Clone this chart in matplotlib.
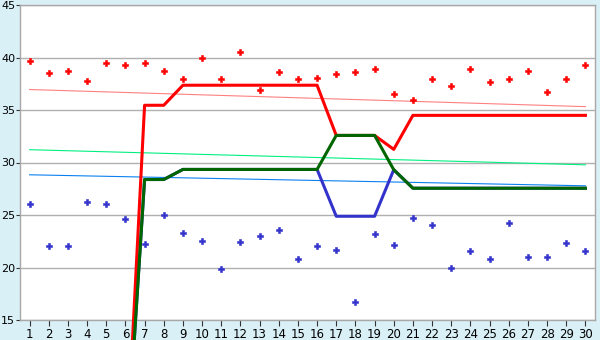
import matplotlib
matplotlib.use('Agg')
import matplotlib.pyplot as plt

# Kategorien 1..30
tage = list(range(1, 31))

# Punktwolken (rot oben, blau unten)
rot_punkte = [39.71, 38.57, 38.76, 37.80, 39.52, 39.24, 39.43, 38.76, 37.99, 40.00,
              37.99, 40.57, 36.94, 38.66, 37.99, 38.09, 38.47, 38.66, 38.95, 36.56,
              35.99, 37.99, 37.32, 38.95, 37.71, 37.99, 38.76, 36.75, 37.99, 39.33]
blau_punkte = [26.06, 22.02, 22.02, 26.25, 26.06, 24.62, 22.21, 25.00, 23.27, 22.50,
               19.81, 22.40, 22.98, 23.56, 20.77, 22.02, 21.63, 16.73, 23.17, 22.12,
               24.71, 24.04, 20.00, 21.54, 20.77, 24.23, 20.96, 20.96, 22.31, 21.54]

# Dicke Linien
rot_linie = [0, 0, 0, 0, 0, 0, 35.45, 35.45, 37.36, 37.36,
             37.36, 37.36, 37.36, 37.36, 37.36, 37.36, 32.58, 32.58, 32.58, 31.25,
             34.49, 34.49, 34.49, 34.49, 34.49, 34.49, 34.49, 34.49, 34.49, 34.49]
gruen_linie = [0, 0, 0, 0, 0, 0, 28.38, 28.38, 29.34, 29.34,
               29.34, 29.34, 29.34, 29.34, 29.34, 29.34, 32.58, 32.58, 32.58, 29.31,
               27.55, 27.55, 27.55, 27.55, 27.55, 27.55, 27.55, 27.55, 27.55, 27.55]
blau_linie = [0, 0, 0, 0, 0, 0, 28.38, 28.38, 29.34, 29.34,
              29.34, 29.34, 29.34, 29.34, 29.34, 29.34, 24.88, 24.88, 24.88, 29.31,
              27.55, 27.55, 27.55, 27.55, 27.55, 27.55, 27.55, 27.55, 27.55, 27.55]

# Duenne Trendlinien (Start- und Endwert)
trend_x = [1, 30]
trend_rosa = [36.95, 35.32]
trend_gruen = [31.22, 29.78]
trend_blau = [28.83, 27.78]

y_ticks = [15, 20, 25, 30, 35, 40, 45]

fig = plt.figure(figsize=(6, 3.4), dpi=100, facecolor='#DAF0F7')
ax = fig.add_axes([20/600, 20/340, 575/600, 315/340])
ax.set_facecolor('white')

ax.plot(trend_x, trend_rosa, color='#FF8080', lw=0.8, zorder=2)
ax.plot(trend_x, trend_gruen, color='#00F080', lw=0.8, zorder=2)
ax.plot(trend_x, trend_blau, color='#0A80F0', lw=0.8, zorder=2)

ax.plot(tage, blau_linie, color='#3333CC', lw=2.2, zorder=3, clip_on=False)
ax.plot(tage, rot_linie, color='#FF0000', lw=2.2, zorder=4, clip_on=False)
ax.plot(tage, gruen_linie, color='#006600', lw=2.2, zorder=5, clip_on=False)

ax.plot(tage, rot_punkte, ls='none', marker='P', ms=5, color='#FF0000', mew=0.4, zorder=6)
ax.plot(tage, blau_punkte, ls='none', marker='P', ms=5, color='#3333CC', mew=0.4, zorder=6)

ax.set_xlim(0.5, 30.5)
ax.set_ylim(15, 45)
ax.set_xticks(tage)
ax.set_yticks(y_ticks)
ax.grid(axis='y', color='#B0B0B0', lw=1.0, zorder=1)
ax.set_axisbelow(True)
for s in ax.spines.values():
    s.set_color('#A8A8A8')
    s.set_linewidth(1.0)
ax.tick_params(axis='x', colors='#333333', labelsize=8.5, length=4, width=0.8,
               labelcolor='black', pad=2)
ax.tick_params(axis='y', colors='#333333', labelsize=8, length=3, width=0.8,
               labelcolor='black', pad=0.5)

fig.savefig('out.png', dpi=100, facecolor=fig.get_facecolor())
